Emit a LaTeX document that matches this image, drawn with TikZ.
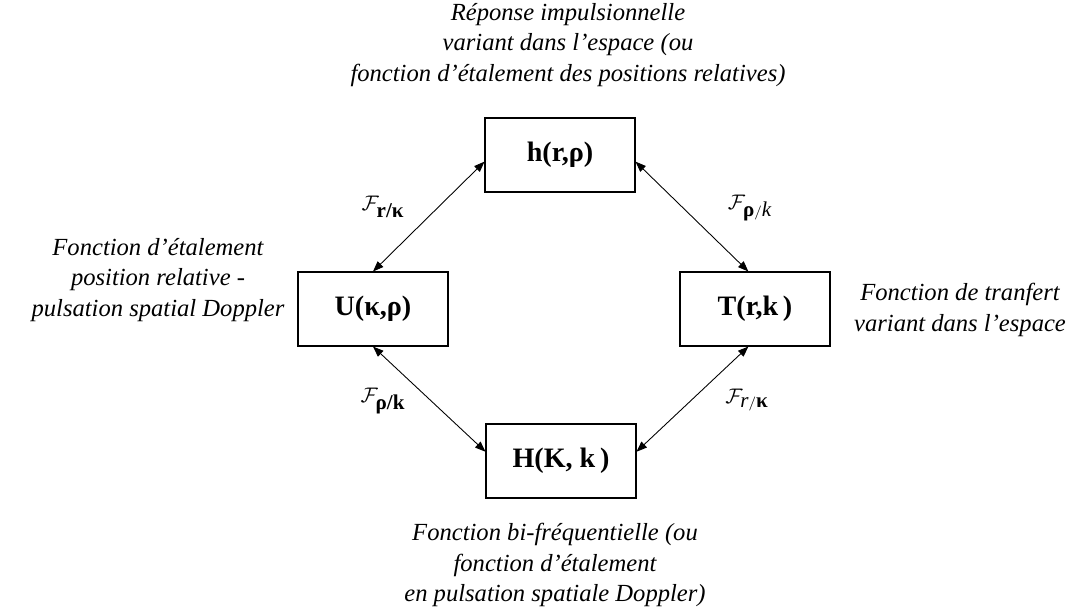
\documentclass[tikz,border=0pt]{standalone}
\usepackage{fontspec}
\setmainfont{Liberation Serif}
\usetikzlibrary{arrows.meta}

\begin{document}
\begin{tikzpicture}[x=0.02cm, y=-0.02cm,
    boite/.style={draw, line width=0.6pt, minimum width=3cm, minimum height=1.48cm,
      font=\fontsize{16}{18}\selectfont\bfseries},
    fleche/.style={line width=0.5pt,
      {Triangle[length=6pt,width=4.5pt]}-{Triangle[length=6pt,width=4.5pt]}},
    legende/.style={align=center, font=\fontsize{14}{17.5}\selectfont\itshape},
    transf/.style={font=\fontsize{12}{14}\selectfont}]
    \useasboundingbox (0,0) rectangle (1085,610);

    % les quatre fonctions
    \node[boite] (h) at (560,155) {h(r,ρ)};
    \node[boite] (U) at (373,309) {U(κ,ρ)};
    \node[boite] (T) at (755,309) {T(r,k\,)};
    \node[boite] (H) at (561,461) {H(Κ, k\,)};

    \draw[fleche] (U.north) -- (h.185);
    \draw[fleche] (h.355) -- (T.100);
    \draw[fleche] (U.south) -- (H.173);
    \draw[fleche] (T.260) -- (H.7);

    \node[transf] (f1) at (383,207) {$\mathcal{F}_{\textbf{r/κ}}$};
    \node[transf] (f2) at (750,208) {$\mathcal{F}_{\textbf{ρ}/\textit{k}}$};
    \node[transf] (f3) at (383,401) {$\mathcal{F}_{\textbf{ρ/k}}$};
    \node[transf] (f4) at (747,400) {$\mathcal{F}_{\textit{r}/\textbf{κ}}$};

    \node[legende] (t1) at (568,45) {Réponse impulsionnelle\\variant dans l'espace (ou\\fonction d'étalement des positions relatives)};
    \node[legende] (t2) at (158,280) {Fonction d'étalement\\position relative -\\pulsation spatial Doppler};
    \node[legende] (t3) at (960,310) {Fonction de tranfert\\variant dans l'espace};
    \node[legende] (t4) at (555,565) {Fonction bi-fréquentielle (ou\\fonction d'étalement\\en pulsation spatiale Doppler)};
\end{tikzpicture}
\end{document}
